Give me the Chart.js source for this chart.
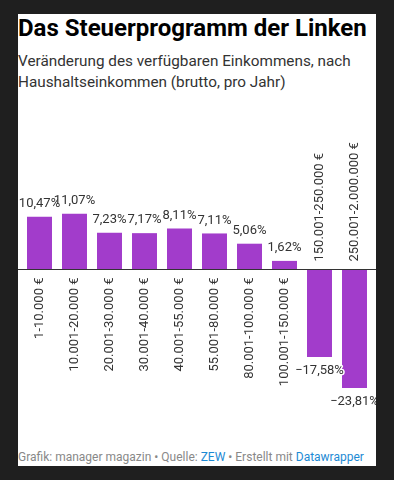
<!DOCTYPE html>
<html lang="de">
<head>
<meta charset="utf-8">
<script src="https://cdn.jsdelivr.net/npm/chart.js@4/dist/chart.umd.min.js"></script>
<style>
  html, body { margin: 0; padding: 0; }
  body { width: 394px; height: 480px; background: #1f1f1f; font-family: Roboto, sans-serif; position: relative; overflow: hidden; }
  .panel { position: absolute; left: 18px; top: 14px; width: 358px; height: 452px; background: #fff; }
  h1 { position: absolute; left: 0; top: 0; margin: 0; font-size: 24px; font-weight: 700; color: #000; line-height: 28px; white-space: nowrap; }
  .sub { position: absolute; left: 0; top: 37px; margin: 0; font-size: 15.3px; line-height: 21px; color: #333; }
  .chart-wrap { position: absolute; left: 0; top: 96px; width: 358px; height: 320px; }
  .foot { position: absolute; left: 0; top: 436px; font-size: 12px; color: #888; white-space: nowrap; }
  .foot span { color: #1d8ad4; }
</style>
</head>
<body>
<div class="panel">
  <h1>Das Steuerprogramm der Linken</h1>
  <p class="sub">Veränderung des verfügbaren Einkommens, nach Haushaltseinkommen (brutto, pro Jahr)</p>
  <div class="chart-wrap"><canvas id="steuer-chart"></canvas></div>
  <div class="foot">Grafik: manager magazin • Quelle: <span>ZEW</span> • Erstellt mit <span>Datawrapper</span></div>
</div>
<script>
// Einkommensgruppen (brutto, pro Jahr)
const categories = [
    '1-10.000 €',
    '10.001-20.000 €',
    '20.001-30.000 €',
    '30.001-40.000 €',
    '40.001-55.000 €',
    '55.001-80.000 €',
    '80.001-100.000 €',
    '100.001-150.000 €',
    '150.001-250.000 €',
    '250.001-2.000.000 €',
];

// Veränderung des verfügbaren Einkommens in %
const values = [10.47, 11.07, 7.23, 7.17, 8.11, 7.11, 5.06, 1.62, -17.58, -23.81];

const barColor = '#a23ccb';
const textColor = '#333333';

function formatPercent(v) {
    return v.toFixed(2).replace('.', ',').replace('-', '\u2212') + '%';
}

// Zero line, value labels and category labels drawn at the axis
const labelPlugin = {
    id: 'dwLabels',
    afterDatasetsDraw(chart) {
        const { ctx } = chart;
        const yScale = chart.scales.y;
        const zeroY = Math.round(yScale.getPixelForValue(0)) + 0.5;
        const meta = chart.getDatasetMeta(0);

        ctx.save();
        ctx.strokeStyle = '#333333';
        ctx.lineWidth = 1;
        ctx.beginPath();
        ctx.moveTo(0, zeroY);
        ctx.lineTo(chart.width, zeroY);
        ctx.stroke();

        ctx.font = '13px Roboto, sans-serif';
        meta.data.forEach((bar, i) => {
            const v = values[i];
            const label = formatPercent(v);
            ctx.textAlign = 'center';
            ctx.textBaseline = 'middle';
            if (v >= 0) {
                ctx.fillStyle = textColor;
                ctx.fillText(label, bar.x, bar.y - 13);
            } else {
                ctx.lineWidth = 3;
                ctx.strokeStyle = '#ffffff';
                ctx.lineJoin = 'round';
                ctx.strokeText(label, bar.x, bar.y + 14);
                ctx.fillStyle = textColor;
                ctx.fillText(label, bar.x, bar.y + 14);
            }

            // rotated category label
            ctx.save();
            ctx.translate(bar.x, v >= 0 ? zeroY + 8 : zeroY - 8);
            ctx.rotate(-Math.PI / 2);
            ctx.textAlign = v >= 0 ? 'right' : 'left';
            ctx.textBaseline = 'middle';
            ctx.fillStyle = textColor;
            ctx.fillText(categories[i], 0, 0);
            ctx.restore();
        });
        ctx.restore();
    },
};

new Chart(document.getElementById('steuer-chart'), {
    type: 'bar',
    data: {
        labels: categories,
        datasets: [
            {
                data: values,
                backgroundColor: barColor,
                borderWidth: 0,
                barPercentage: 0.714,
                categoryPercentage: 1,
            },
        ],
    },
    options: {
        responsive: true,
        maintainAspectRatio: false,
        animation: false,
        layout: {
            padding: { left: 4, right: 4, top: 59, bottom: 11 },
        },
        plugins: {
            legend: { display: false },
            tooltip: { enabled: false },
        },
        scales: {
            x: { display: false },
            y: { display: false, min: -30, max: 20 },
        },
    },
    plugins: [labelPlugin],
});
</script>
</body>
</html>
